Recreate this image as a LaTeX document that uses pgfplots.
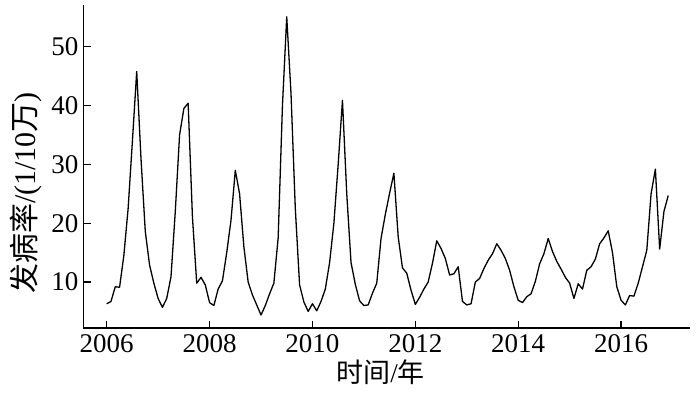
\documentclass[border=0pt]{standalone}
\usepackage{pgfplots}
\pgfplotsset{compat=1.18}
\usepackage{pgfplotstable}
\usepackage{fontspec}
\setmainfont{Liberation Serif}
\newfontfamily\cjk{Noto Sans CJK SC}
\pgfplotstableread{
v
6.3
6.7
9.2
9.1
14.5
22.5
34
45.8
31
18.6
12.9
9.8
7.2
5.7
7.2
10.9
22
35
39.5
40.4
21.1
9.8
10.8
9.5
6.5
6.0
8.8
10.2
15
20.5
29.0
25
16
10
7.8
6.1
4.4
6.0
8.0
9.8
17.5
40
55.1
42
22.5
9.5
6.6
5.0
6.3
5.1
6.7
8.8
13.3
20
30
40.9
25
13.3
9.6
6.8
6.0
6.1
8.1
9.8
17.4
21.5
25.1
28.5
17.7
12.4
11.5
8.6
6.2
7.4
8.8
10
13.2
17.0
15.7
14
11.2
11.4
12.6
6.7
6.1
6.3
10
10.6
12.3
13.7
14.8
16.5
15.4
14
12
9.2
6.9
6.5
7.5
8.0
10.1
13.1
14.8
17.4
15.2
13.5
12.2
10.8
9.8
7.2
9.7
8.8
12.0
12.6
13.9
16.5
17.5
18.7
15
9.2
6.9
6.1
7.7
7.6
9.8
12.6
15.4
25
29.2
15.6
22
24.7
}\datatable
\begin{document}
\begin{tikzpicture}
\useasboundingbox (-83.3pt,-69pt) rectangle (616.7pt,328pt);
\begin{axis}[
  at={(0pt,0pt)}, anchor=south west,
  scale only axis,
  width=606.7pt, height=323pt,
  xmin=2005.545, xmax=2017.34,
  ymin=2.18, ymax=57.1,
  axis x line*=bottom, axis y line*=left,
  axis line style={line width=1.4pt},
  tick align=inside,
  major tick length=7.5pt,
  tick style={line width=1.2pt, black},
  xtick={2006,2008,2010,2012,2014,2016},
  ytick={10,20,30,40,50},
  /pgf/number format/1000 sep={},
  /pgf/number format/assume math mode=true,
  tick label style={font=\fontsize{27}{30}\selectfont},
  xticklabel style={yshift=-3pt},
  yticklabel style={xshift=-1.5pt},
  xlabel={{\cjk 时间}/{\cjk 年}},
  ylabel={{\cjk 发病率}/(1/10{\cjk 万})},
  xlabel style={font=\fontsize{27}{30}\selectfont, at={(axis description cs:0.49,-0.136)}, anchor=center},
  ylabel style={font=\fontsize{30}{32}\selectfont, at={(axis description cs:-0.094,0.418)}, anchor=center},
]
\addplot[black, line width=1.3pt, line join=round, mark=none]
  table[x expr={2006+\coordindex/12}, y=v] {\datatable};
\end{axis}
\end{tikzpicture}
\end{document}
